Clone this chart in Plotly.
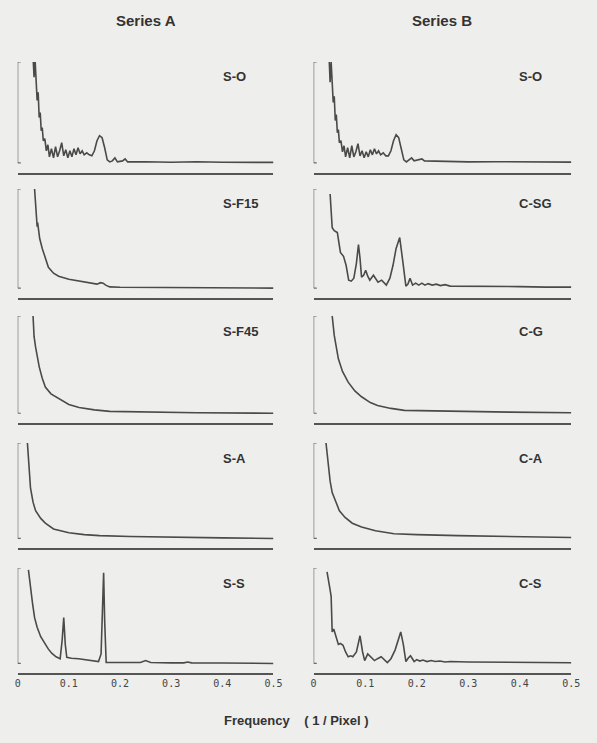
import plotly.graph_objects as go

# ---------------- data ----------------
COLUMN_TITLES = ["Series A", "Series B"]
PANEL_LABELS_A = ["S-O", "S-F15", "S-F45", "S-A", "S-S"]
PANEL_LABELS_B = ["S-O", "C-SG", "C-G", "C-A", "C-S"]
TICK_VALS = [0, 0.1, 0.2, 0.3, 0.4, 0.5]
TICK_TEXT = ["0", "0.1", "0.2", "0.3", "0.4", "0.5"]
X_TITLE = "Frequency    ( 1 / Pixel )"

# Series A
F_A_SO = [0.030, 0.032, 0.034, 0.036, 0.038, 0.040, 0.042, 0.044, 0.046, 0.048, 0.050, 0.053, 0.056,
          0.059, 0.062, 0.066, 0.070, 0.074, 0.078, 0.082, 0.086, 0.090, 0.094, 0.098, 0.102, 0.106,
          0.110, 0.114, 0.118, 0.122, 0.126, 0.130, 0.135, 0.140, 0.145, 0.150, 0.155, 0.160, 0.165,
          0.170, 0.175, 0.180, 0.185, 0.190, 0.195, 0.205, 0.210, 0.215, 0.250, 0.300, 0.350, 0.400,
          0.450, 0.500]
P_A_SO = [1.05, 0.85, 1.02, 0.75, 0.62, 0.70, 0.45, 0.50, 0.32, 0.35, 0.22, 0.24, 0.12,
          0.18, 0.06, 0.14, 0.05, 0.16, 0.06, 0.12, 0.20, 0.07, 0.13, 0.05, 0.12, 0.06,
          0.14, 0.08, 0.15, 0.09, 0.12, 0.08, 0.10, 0.08, 0.07, 0.12, 0.22, 0.27, 0.25,
          0.15, 0.03, 0.01, 0.02, 0.05, 0.01, 0.02, 0.04, 0.01, 0.012, 0.006, 0.012, 0.006,
          0.008, 0.005]

F_A_SF15 = [0.033, 0.035, 0.036, 0.038, 0.039, 0.040, 0.043, 0.048, 0.055, 0.060, 0.070, 0.080,
            0.100, 0.120, 0.140, 0.155, 0.162, 0.167, 0.172, 0.180, 0.200, 0.250, 0.300, 0.400, 0.500]
P_A_SF15 = [1.00, 0.80, 0.70, 0.62, 0.66, 0.60, 0.50, 0.40, 0.28, 0.21, 0.15, 0.12,
            0.09, 0.07, 0.05, 0.04, 0.055, 0.05, 0.03, 0.012, 0.008, 0.006, 0.004, 0.002, 0.0]

F_A_SF45 = [0.030, 0.032, 0.035, 0.042, 0.048, 0.054, 0.065, 0.080, 0.100, 0.120, 0.150, 0.180,
            0.250, 0.350, 0.500]
P_A_SF45 = [1.00, 0.79, 0.68, 0.48, 0.36, 0.27, 0.20, 0.15, 0.09, 0.06, 0.035, 0.02,
            0.012, 0.006, 0.0]

F_A_SA = [0.019, 0.022, 0.025, 0.030, 0.035, 0.045, 0.054, 0.070, 0.100, 0.130, 0.160, 0.220,
          0.300, 0.400, 0.500]
P_A_SA = [1.00, 0.75, 0.53, 0.38, 0.29, 0.21, 0.16, 0.10, 0.06, 0.04, 0.03, 0.02,
          0.012, 0.006, 0.0]

F_A_SS = [0.021, 0.025, 0.029, 0.033, 0.038, 0.045, 0.052, 0.060, 0.067, 0.075, 0.083, 0.087,
          0.090, 0.093, 0.096, 0.105, 0.119, 0.140, 0.158, 0.163, 0.166, 0.168, 0.170, 0.173,
          0.180, 0.200, 0.240, 0.250, 0.260, 0.300, 0.325, 0.332, 0.340, 0.400, 0.500]
P_A_SS = [0.98, 0.78, 0.63, 0.48, 0.38, 0.28, 0.22, 0.15, 0.105, 0.07, 0.05, 0.25,
          0.48, 0.20, 0.065, 0.055, 0.05, 0.035, 0.02, 0.10, 0.60, 0.95, 0.45, 0.01,
          0.01, 0.01, 0.01, 0.03, 0.01, 0.006, 0.006, 0.015, 0.006, 0.005, 0.0]

# Series B
F_B_SO = [0.030, 0.032, 0.034, 0.036, 0.038, 0.040, 0.042, 0.044, 0.046, 0.048, 0.050, 0.053, 0.056,
          0.059, 0.062, 0.066, 0.070, 0.074, 0.078, 0.082, 0.086, 0.090, 0.094, 0.098, 0.102, 0.106,
          0.110, 0.114, 0.118, 0.122, 0.126, 0.130, 0.135, 0.140, 0.145, 0.150, 0.155, 0.160, 0.165,
          0.170, 0.175, 0.180, 0.185, 0.190, 0.195, 0.205, 0.210, 0.215, 0.250, 0.300, 0.350, 0.400,
          0.450, 0.500]
P_B_SO = [1.05, 0.80, 1.00, 0.72, 0.60, 0.66, 0.42, 0.48, 0.30, 0.33, 0.20, 0.22, 0.11,
          0.17, 0.06, 0.15, 0.05, 0.17, 0.06, 0.11, 0.19, 0.07, 0.12, 0.05, 0.11, 0.06,
          0.13, 0.08, 0.14, 0.09, 0.12, 0.08, 0.10, 0.07, 0.07, 0.12, 0.22, 0.28, 0.25,
          0.14, 0.03, 0.01, 0.03, 0.05, 0.02, 0.03, 0.04, 0.02, 0.015, 0.01, 0.012, 0.01,
          0.008, 0.008]

F_B_CSG = [0.032, 0.034, 0.036, 0.040, 0.046, 0.052, 0.058, 0.063, 0.068, 0.073, 0.078, 0.083,
           0.087, 0.090, 0.093, 0.097, 0.101, 0.105, 0.109, 0.116, 0.125, 0.132, 0.141, 0.148,
           0.154, 0.160, 0.167, 0.173, 0.179, 0.183, 0.187, 0.192, 0.198, 0.204, 0.210, 0.216,
           0.222, 0.230, 0.238, 0.246, 0.255, 0.265, 0.300, 0.350, 0.400, 0.450, 0.500]
P_B_CSG = [0.95, 0.75, 0.61, 0.58, 0.56, 0.36, 0.32, 0.23, 0.08, 0.07, 0.10, 0.25,
           0.44, 0.30, 0.11, 0.13, 0.18, 0.12, 0.08, 0.13, 0.06, 0.08, 0.03, 0.10,
           0.23, 0.40, 0.51, 0.27, 0.02, 0.04, 0.10, 0.03, 0.05, 0.03, 0.05, 0.03,
           0.045, 0.03, 0.04, 0.025, 0.035, 0.02, 0.02, 0.015, 0.015, 0.01, 0.01]

F_B_CG = [0.036, 0.040, 0.048, 0.056, 0.067, 0.080, 0.093, 0.110, 0.124, 0.150, 0.176, 0.220,
          0.280, 0.380, 0.500]
P_B_CG = [1.00, 0.80, 0.56, 0.43, 0.32, 0.23, 0.17, 0.11, 0.08, 0.05, 0.03, 0.025,
          0.02, 0.012, 0.005]

F_B_CA = [0.024, 0.028, 0.032, 0.036, 0.042, 0.050, 0.061, 0.075, 0.093, 0.120, 0.156, 0.200,
          0.280, 0.400, 0.500]
P_B_CA = [1.00, 0.78, 0.60, 0.48, 0.39, 0.29, 0.22, 0.16, 0.12, 0.08, 0.05, 0.04,
          0.03, 0.015, 0.01]

F_B_CS = [0.026, 0.029, 0.032, 0.034, 0.036, 0.039, 0.042, 0.045, 0.048, 0.052, 0.057, 0.062,
          0.067, 0.072, 0.076, 0.083, 0.090, 0.095, 0.099, 0.105, 0.111, 0.118, 0.124, 0.131,
          0.143, 0.150, 0.158, 0.164, 0.169, 0.174, 0.179, 0.184, 0.188, 0.195, 0.200, 0.206,
          0.212, 0.220, 0.228, 0.236, 0.245, 0.255, 0.265, 0.300, 0.350, 0.400, 0.450, 0.500]
P_B_CS = [0.96, 0.88, 0.77, 0.70, 0.33, 0.36, 0.31, 0.25, 0.20, 0.21, 0.19, 0.12,
          0.07, 0.08, 0.07, 0.12, 0.29, 0.12, 0.03, 0.10, 0.07, 0.03, 0.05, 0.07,
          0.01, 0.05, 0.14, 0.26, 0.33, 0.20, 0.02, 0.06, 0.08, 0.02, 0.04, 0.025,
          0.035, 0.02, 0.03, 0.02, 0.025, 0.015, 0.02, 0.015, 0.012, 0.01, 0.01, 0.008]

SERIES_A = [(F_A_SO, P_A_SO), (F_A_SF15, P_A_SF15), (F_A_SF45, P_A_SF45), (F_A_SA, P_A_SA), (F_A_SS, P_A_SS)]
SERIES_B = [(F_B_SO, P_B_SO), (F_B_CSG, P_B_CSG), (F_B_CG, P_B_CG), (F_B_CA, P_B_CA), (F_B_CS, P_B_CS)]

# ---------------- layout ----------------
W, H = 597, 743
BG = "#eeeeec"
INK = "#4a4a4a"
TXT = "#333333"

COL_X = [(15, 276), (317, 580)]          # pixel extents of each column
PANEL_TOP = [62, 189, 316, 443, 568]     # pixel tops (bracket top)
PANEL_BOT = [173, 298, 423, 548, 673]    # pixel bottoms (axis line)


def px_x(p):
    return p / W


def px_y(p):
    return 1 - p / H


fig = go.Figure()
layout = dict(
    width=W, height=H,
    margin=dict(l=0, r=0, t=0, b=0),
    paper_bgcolor=BG, plot_bgcolor=BG,
    showlegend=False,
    font=dict(family="Liberation Sans, Arial, sans-serif", color=TXT),
)
annotations = []
shapes = []

idx = 0
for c, (series, labels) in enumerate([(SERIES_A, PANEL_LABELS_A), (SERIES_B, PANEL_LABELS_B)]):
    for r in range(5):
        idx += 1
        xa = "x" if idx == 1 else f"x{idx}"
        ya = "y" if idx == 1 else f"y{idx}"
        xkey = "xaxis" if idx == 1 else f"xaxis{idx}"
        ykey = "yaxis" if idx == 1 else f"yaxis{idx}"
        f, p = series[r]
        fig.add_trace(go.Scatter(x=f, y=p, mode="lines", xaxis=xa, yaxis=ya,
                                 line=dict(color=INK, width=1.6), hoverinfo="skip"))
        last = r == 4
        layout[xkey] = dict(
            domain=[px_x(COL_X[c][0]), px_x(COL_X[c][1])],
            range=[0, 0.5], anchor=ya,
            showline=True, linecolor="#555555", linewidth=1.5,
            showgrid=False, zeroline=False,
            tickmode="array", tickvals=TICK_VALS, ticktext=TICK_TEXT,
            showticklabels=last, ticks="",
            tickfont=dict(family="DejaVu Sans Mono, monospace", size=10, color="#444444"),
        )
        layout[ykey] = dict(
            domain=[px_y(PANEL_BOT[r]), px_y(PANEL_TOP[r])],
            range=[-0.1, 1.0], anchor=xa,
            showline=False, showgrid=False, zeroline=False,
            showticklabels=False, ticks="",
        )
        # bracket "[" on the left of each panel
        shapes.append(dict(type="line", xref=xa, yref=ya, x0=0, x1=0, y0=0.0, y1=1.0,
                           line=dict(color="#666666", width=1.2)))
        shapes.append(dict(type="line", xref=xa, yref=ya, x0=0, x1=0.006, y0=1.0, y1=1.0,
                           line=dict(color="#666666", width=1.2)))
        shapes.append(dict(type="line", xref=xa, yref=ya, x0=0, x1=0.006, y0=0.0, y1=0.0,
                           line=dict(color="#666666", width=1.2)))
        annotations.append(dict(
            text=f"<b>{labels[r]}</b>", xref="paper", yref="paper",
            x=px_x(222 if c == 0 else 525), y=px_y(PANEL_TOP[r] + 15),
            xanchor="left", yanchor="middle", showarrow=False,
            font=dict(size=13, color=TXT)))

for c, t in enumerate(COLUMN_TITLES):
    annotations.append(dict(
        text=f"<b>{t}</b>", xref="paper", yref="paper",
        x=px_x((COL_X[c][0] + COL_X[c][1]) / 2), y=px_y(20),
        xanchor="center", yanchor="middle", showarrow=False,
        font=dict(size=15, color=TXT)))

annotations.append(dict(
    text=f"<b>{X_TITLE}</b>", xref="paper", yref="paper",
    x=px_x(300), y=px_y(720), xanchor="center", yanchor="middle", showarrow=False,
    font=dict(size=13, color=TXT)))

layout["annotations"] = annotations
layout["shapes"] = shapes
fig.update_layout(**layout)
fig.write_html(
    "out.html",
    config={"displayModeBar": False},
    post_script="document.body.style.margin='0';document.body.style.background='#eeeeec';",
)
